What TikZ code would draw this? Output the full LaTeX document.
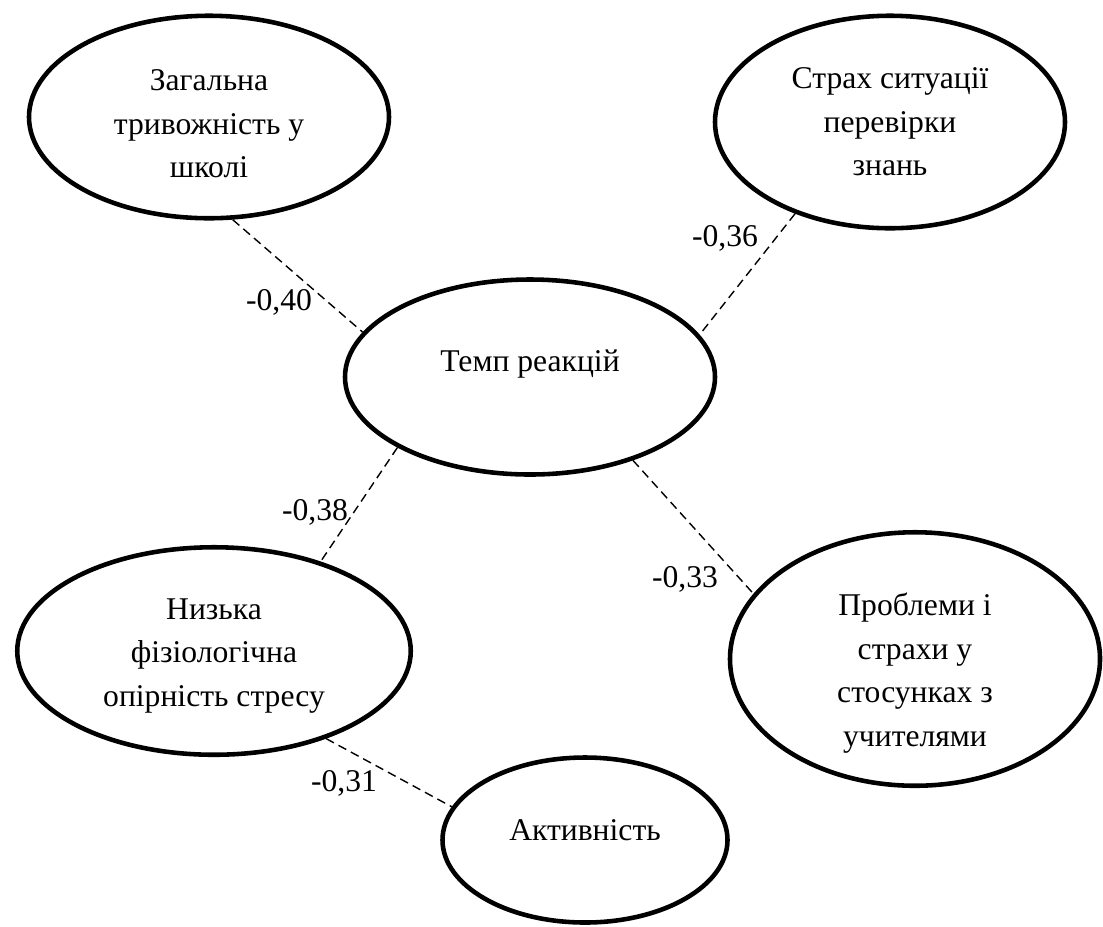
\documentclass[tikz,border=0pt]{standalone}
\usepackage{fontspec}
\setmainfont{Liberation Serif}
\usepackage{tikz}
\usetikzlibrary{shapes.geometric}

\begin{document}
\begin{tikzpicture}[
  factor/.style={ellipse, draw, line width=2.6pt, inner sep=0pt},
  caption/.style={align=center, inner sep=0pt, font=\fontsize{18}{24.8}\selectfont},
  link/.style={line width=0.8pt, dash pattern=on 5pt off 3pt},
  coef/.style={font=\fontsize{18}{22}\selectfont, inner sep=0pt}
]
  \useasboundingbox (0,0) rectangle (22.06,-18.52);
  % Factors
  \node[factor, minimum width=7.2cm,  minimum height=4.05cm,
        label={[caption, yshift=-0.14cm]center:{Загальна\\тривожність у\\школі}}] (school) at (4.18,-2.34) {};
  \node[factor, minimum width=7.0cm,  minimum height=4.25cm,
        label={[caption]center:{Страх ситуації\\перевірки\\знань}}] (exam) at (17.8,-2.44) {};
  \node[factor, minimum width=7.4cm,  minimum height=3.9cm,
        label={[caption, yshift=0.26cm]center:{Темп реакцій}}] (tempo) at (10.6,-7.54) {};
  \node[factor, minimum width=7.87cm, minimum height=4.15cm,
        label={[caption, yshift=-0.1cm]center:{Низька\\фізіологічна\\опірність стресу}}] (stress) at (4.28,-13.02) {};
  \node[factor, minimum width=7.4cm,  minimum height=5.07cm,
        label={[caption, yshift=-0.28cm]center:{Проблеми і\\страхи у\\стосунках з\\учителями}}] (teachers) at (18.3,-13.18) {};
  \node[factor, minimum width=5.7cm,  minimum height=3.3cm,
        label={[caption, yshift=0.2cm]center:{Активність}}] (activity) at (11.7,-16.8) {};
  % Links
  \draw[link] (school.-77)  -- (tempo.165);
  \draw[link] (exam.224)    -- (tempo.14);
  \draw[link] (tempo.208)   -- (stress.40);
  \draw[link] (tempo.-39)   -- (teachers.158);
  \draw[link] (stress.-38)  -- (activity.166);
  % Coefficients
  \node[coef] (c40) at (5.58,-6.04)  {-0,40};
  \node[coef] (c36) at (14.5,-4.76)  {-0,36};
  \node[coef] (c38) at (6.3,-10.24)  {-0,38};
  \node[coef] (c33) at (13.7,-11.58) {-0,33};
  \node[coef] (c31) at (6.88,-15.66) {-0,31};
\end{tikzpicture}
\end{document}
